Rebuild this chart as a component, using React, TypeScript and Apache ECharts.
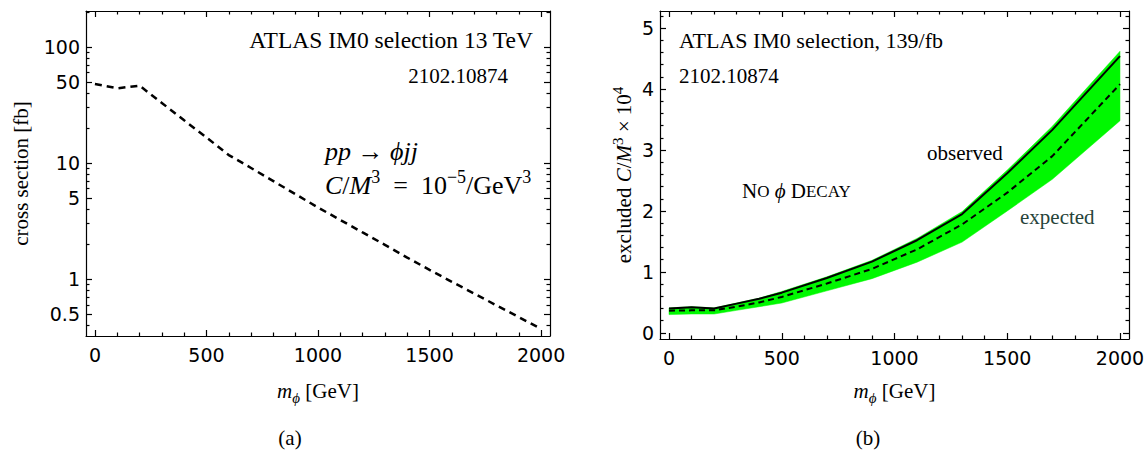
import React, { useEffect, useRef } from "react";
import * as echarts from "echarts";

// ---- Panel (a): cross section vs m_phi (log scale) ----
const massA = [0, 100, 200, 300, 400, 500, 600, 700, 800, 900, 1000, 1100, 1200, 1300, 1400, 1500, 1600, 1700, 1800, 1900, 2000];
const crossSection = [48, 44, 46.4, 32.9, 23.3, 16.6, 11.7, 9.06, 6.98, 5.37, 4.14, 3.23, 2.52, 1.97, 1.53, 1.2, 0.946, 0.75, 0.593, 0.47, 0.372];

// ---- Panel (b): excluded C/M^3 x 10^4 ----
const massB = [0, 100, 200, 300, 400, 500, 700, 900, 1100, 1300, 1500, 1700, 2000];
const observed = [0.4, 0.42, 0.4, 0.48, 0.56, 0.66, 0.9, 1.17, 1.52, 1.95, 2.62, 3.33, 4.54];
const expected = [0.365, 0.37, 0.37, 0.43, 0.5, 0.59, 0.81, 1.05, 1.37, 1.78, 2.3, 2.9, 4.08];
const bandLow = [0.3, 0.31, 0.31, 0.37, 0.43, 0.49, 0.69, 0.89, 1.16, 1.49, 2.0, 2.52, 3.48];
const bandHigh = [0.41, 0.43, 0.41, 0.49, 0.57, 0.68, 0.92, 1.19, 1.55, 1.99, 2.67, 3.39, 4.62];

// ---- ticks ----
const xMajor = [0, 500, 1000, 1500, 2000];
const xMinor = [100, 200, 300, 400, 600, 700, 800, 900, 1100, 1200, 1300, 1400, 1600, 1700, 1800, 1900];
const yMajorA = [0.5, 1, 5, 10, 50, 100];
const yMinorA = [0.4, 0.6, 0.7, 0.8, 0.9, 2, 3, 4, 6, 7, 8, 9, 20, 30, 40, 60, 70, 80, 90, 200];
const yMajorB = [0, 1, 2, 3, 4, 5];
const yMinorB = [0.2, 0.4, 0.6, 0.8, 1.2, 1.4, 1.6, 1.8, 2.2, 2.4, 2.6, 2.8, 3.2, 3.4, 3.6, 3.8, 4.2, 4.4, 4.6, 4.8, 5.2];

const SERIF = "Liberation Serif";
const SANS = "DejaVu Sans";
const LINE = { color: "#000", width: 1.2 };
const MAJ = 6;
const MIN = 3.5;
const GREEN = "#00f800";

const X_MIN = -40;
const X_MAX = 2040;
const A_MIN = 0.323;
const A_MAX = 204;
const B_MIN = -0.1;
const B_MAX = 5.28;

const FS = 21;
const LH = 28;

const mkRich = (fs: number, lh: number, small: number) => ({
  r: { fontFamily: SERIF, fontSize: fs, lineHeight: lh, color: "#000", fill: "#000" },
  i: { fontFamily: SERIF, fontStyle: "italic", fontSize: fs, lineHeight: lh, color: "#000", fill: "#000" },
  sup: { fontFamily: SERIF, fontSize: small, lineHeight: small, verticalAlign: "top", color: "#000", fill: "#000" },
  sub: { fontFamily: SERIF, fontStyle: "italic", fontSize: small, lineHeight: small, verticalAlign: "bottom", color: "#000", fill: "#000" },
  sc: { fontFamily: SERIF, fontSize: Math.round(fs * 0.8), lineHeight: lh, color: "#000", fill: "#000" },
});
const richText = mkRich(FS, LH, 15);
const richMath = mkRich(26, 34, 18);

function tickAxis(extra: any) {
  return {
    type: "value",
    splitLine: { show: false },
    axisLine: { show: false, onZero: false, lineStyle: LINE },
    axisTick: { show: false },
    axisLabel: { show: false },
    ...extra,
  };
}

function xAxesFor(grid: number, nameGap: number) {
  const base = { gridIndex: grid, min: X_MIN, max: X_MAX };
  return [
    tickAxis({
      ...base,
      position: "bottom",
      axisLine: { show: true, onZero: false, lineStyle: LINE },
      axisTick: { show: true, inside: true, length: MAJ, customValues: xMajor, lineStyle: LINE },
      axisLabel: {
        show: true,
        customValues: xMajor,
        margin: 9,
        fontFamily: SANS,
        fontSize: 19,
        color: "#000",
        formatter: (v: number) => String(v),
      },
      name: "{i|m}{sub|ϕ}{r| [GeV]}",
      nameLocation: "middle",
      nameGap,
      nameTextStyle: { fontFamily: SERIF, fontSize: FS, lineHeight: LH, color: "#000", rich: richText },
    }),
    tickAxis({ ...base, position: "bottom", axisTick: { show: true, inside: true, length: MIN, customValues: xMinor, lineStyle: LINE } }),
    tickAxis({
      ...base,
      position: "top",
      axisLine: { show: true, onZero: false, lineStyle: LINE },
      axisTick: { show: true, inside: true, length: MAJ, customValues: xMajor, lineStyle: LINE },
    }),
    tickAxis({ ...base, position: "top", axisTick: { show: true, inside: true, length: MIN, customValues: xMinor, lineStyle: LINE } }),
  ];
}

const lg = (v: number) => Math.log10(v);

export default function App() {
  const ref = useRef<HTMLDivElement>(null);
  useEffect(() => {
    if (!ref.current) return;
    const chart = echarts.init(ref.current, undefined, { renderer: "svg" });

    const baseA = { gridIndex: 0, min: lg(A_MIN), max: lg(A_MAX) };
    const baseB = { gridIndex: 1, min: B_MIN, max: B_MAX };

    const yAxes = [
      // 0: log axis holding the series of panel (a)
      {
        type: "log",
        logBase: 10,
        gridIndex: 0,
        min: A_MIN,
        max: A_MAX,
        position: "left",
        splitLine: { show: false },
        axisLine: { show: false },
        axisTick: { show: false },
        axisLabel: { show: false },
      },
      // 1: left major ticks + labels (same decades as the log axis)
      tickAxis({
        ...baseA,
        position: "left",
        axisLine: { show: true, onZero: false, lineStyle: LINE },
        axisTick: { show: true, inside: true, length: MAJ, customValues: yMajorA.map(lg), lineStyle: LINE },
        axisLabel: {
          show: true,
          customValues: yMajorA.map(lg),
          margin: 6,
          fontFamily: SANS,
          fontSize: 19,
          color: "#000",
          formatter: (v: number) => String(Math.round(Math.pow(10, v) * 10) / 10),
        },
        name: "cross section [fb]",
        nameLocation: "middle",
        nameGap: 55,
        nameTextStyle: { fontFamily: SERIF, fontSize: FS, color: "#000" },
      }),
      tickAxis({ ...baseA, position: "left", axisTick: { show: true, inside: true, length: MIN, customValues: yMinorA.map(lg), lineStyle: LINE } }),
      tickAxis({
        ...baseA,
        position: "right",
        axisLine: { show: true, onZero: false, lineStyle: LINE },
        axisTick: { show: true, inside: true, length: MAJ, customValues: yMajorA.map(lg), lineStyle: LINE },
      }),
      tickAxis({ ...baseA, position: "right", axisTick: { show: true, inside: true, length: MIN, customValues: yMinorA.map(lg), lineStyle: LINE } }),
      // 5: panel (b) main axis
      tickAxis({
        ...baseB,
        position: "left",
        axisLine: { show: true, onZero: false, lineStyle: LINE },
        axisTick: { show: true, inside: true, length: MAJ, customValues: yMajorB, lineStyle: LINE },
        axisLabel: { show: true, customValues: yMajorB, margin: 6, fontFamily: SANS, fontSize: 19, color: "#000" },
        name: "{r|excluded }{i|C}{r|/}{i|M}{sup|3}{r| × 10}{sup|4}",
        nameLocation: "middle",
        nameGap: 21,
        nameTextStyle: { fontFamily: SERIF, fontSize: FS, lineHeight: LH, color: "#000", rich: richText },
      }),
      tickAxis({ ...baseB, position: "left", axisTick: { show: true, inside: true, length: MIN, customValues: yMinorB, lineStyle: LINE } }),
      tickAxis({
        ...baseB,
        position: "right",
        axisLine: { show: true, onZero: false, lineStyle: LINE },
        axisTick: { show: true, inside: true, length: MAJ, customValues: yMajorB, lineStyle: LINE },
      }),
      tickAxis({ ...baseB, position: "right", axisTick: { show: true, inside: true, length: MIN, customValues: yMinorB, lineStyle: LINE } }),
    ];

    const txt = (x: number, y: number, text: string, opts: any = {}) => ({
      type: "text",
      x,
      y,
      z: 100,
      style: {
        text,
        fontFamily: SERIF,
        fontSize: FS,
        fill: "#000",
        align: opts.align || "left",
        textAlign: opts.align || "left",
        verticalAlign: "middle",
        textVerticalAlign: "middle",
        rich: opts.rich,
        ...(opts.style || {}),
      },
    });

    chart.setOption({
      animation: false,
      backgroundColor: "#fff",
      grid: [
        { left: 86, top: 11, width: 464, height: 325 },
        { left: 660, top: 11, width: 469, height: 328 },
      ],
      xAxis: [...xAxesFor(0, 41), ...xAxesFor(1, 38)],
      yAxis: yAxes,
      series: [
        {
          type: "line",
          xAxisIndex: 0,
          yAxisIndex: 0,
          data: massA.map((m, i) => [m, crossSection[i]]),
          symbol: "none",
          lineStyle: { color: "#000", width: 2.5, type: [7, 5] },
        },
        {
          type: "custom",
          xAxisIndex: 4,
          yAxisIndex: 5,
          data: [[massB[0], bandLow[0]]],
          silent: true,
          z: 2,
          renderItem: (_params: any, api: any) => {
            const top = massB.map((m, i) => api.coord([m, bandHigh[i]]));
            const bot = massB.map((m, i) => api.coord([m, bandLow[i]])).reverse();
            return {
              type: "polygon",
              shape: { points: top.concat(bot) },
              style: { fill: GREEN, stroke: GREEN, lineWidth: 0.5 },
            };
          },
        },
        {
          type: "line",
          xAxisIndex: 4,
          yAxisIndex: 5,
          data: massB.map((m, i) => [m, expected[i]]),
          symbol: "none",
          z: 5,
          lineStyle: { color: "#000", width: 2, type: [6, 4] },
        },
        {
          type: "line",
          xAxisIndex: 4,
          yAxisIndex: 5,
          data: massB.map((m, i) => [m, observed[i]]),
          symbol: "none",
          z: 6,
          lineStyle: { color: "#000", width: 2 },
        },
      ],
      graphic: [
        txt(533, 40, "ATLAS IM0 selection 13 TeV", { align: "right", style: { fontSize: 23.5 } }),
        txt(508, 76, "2102.10874", { align: "right" }),
        txt(325, 151, "{i|pp}{r| → }{i|ϕjj}", { rich: richMath, style: { fontSize: 26 } }),
        txt(325, 185, "{i|C}{r|/}{i|M}{sup|3}{r|  =  10}{sup|−5}{r|/GeV}{sup|3}", { rich: richMath, style: { fontSize: 26 } }),
        txt(679, 40, "ATLAS IM0 selection, 139/fb", { style: { fontSize: 22 } }),
        txt(679, 76, "2102.10874"),
        txt(742, 191, "{r|N}{sc|O} {i|ϕ} {r|D}{sc|ECAY}", { rich: richText }),
        txt(927, 153, "observed"),
        txt(1020, 217, "expected", { style: { fill: "#27443a" } }),
        txt(290, 438, "(a)", { align: "center" }),
        txt(868, 438, "(b)", { align: "center" }),
      ],
    });
    return () => chart.dispose();
  }, []);
  return (
    <div
      ref={ref}
      style={{ position: "absolute", left: 0, top: 0, width: 1148, height: 454, background: "#fff" }}
    />
  );
}
